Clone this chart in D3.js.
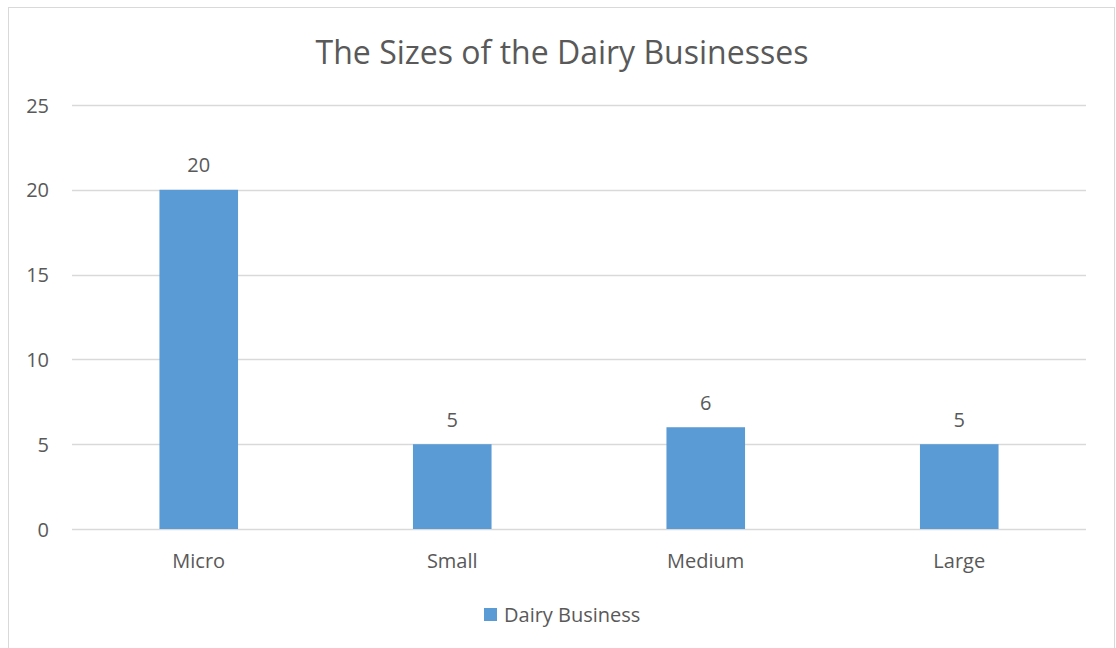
<!DOCTYPE html>
<html>
<head>
<meta charset="utf-8">
<script src="https://cdn.jsdelivr.net/npm/d3@7"></script>
<style>
  html, body { margin: 0; padding: 0; background: #fff; }
  svg { display: block; }
  text { font-family: "Open Sans", "Noto Sans", sans-serif; fill: #595959; }
</style>
</head>
<body>
<svg id="chart" width="1116" height="648"></svg>
<script>
// Dairy business counts by size
const categories = ["Micro", "Small", "Medium", "Large"];
const values = [20, 5, 6, 5];
const yTicks = [0, 5, 10, 15, 20, 25];
const seriesName = "Dairy Business";
const chartTitle = "The Sizes of the Dairy Businesses";

const W = 1116, H = 648;
const margin = { left: 72, right: 30, top: 105, bottom: 119 };
const labelSize = 20;
const svg = d3.select("#chart");

// chart frame
svg.append("rect")
  .attr("x", 8.5).attr("y", 7.5)
  .attr("width", 1106).attr("height", 660)
  .attr("fill", "none").attr("stroke", "#d9d9d9").attr("stroke-width", 1);

const x = d3.scaleBand()
  .domain(categories)
  .range([margin.left, W - margin.right])
  .paddingInner(0.69).paddingOuter(0.345);

const y = d3.scaleLinear()
  .domain([0, 25])
  .range([H - margin.bottom, margin.top]);

// gridlines
svg.append("g")
  .selectAll("line")
  .data(yTicks)
  .join("line")
  .attr("x1", margin.left).attr("x2", W - margin.right)
  .attr("y1", d => Math.round(y(d)) + 0.5).attr("y2", d => Math.round(y(d)) + 0.5)
  .attr("stroke", "#d9d9d9").attr("stroke-width", 1.3);

// y tick labels
svg.append("g")
  .selectAll("text")
  .data(yTicks)
  .join("text")
  .attr("x", 49).attr("y", d => y(d))
  .attr("text-anchor", "end").attr("dominant-baseline", "central")
  .attr("font-size", labelSize)
  .text(d => d);

// bars
svg.append("g")
  .selectAll("rect")
  .data(values)
  .join("rect")
  .attr("x", (d, i) => x(categories[i]))
  .attr("width", x.bandwidth())
  .attr("y", d => y(d))
  .attr("height", d => y(0) - y(d))
  .attr("fill", "#5b9bd5");

// value labels
svg.append("g")
  .selectAll("text")
  .data(values)
  .join("text")
  .attr("x", (d, i) => x(categories[i]) + x.bandwidth() / 2)
  .attr("y", d => y(d) - 25)
  .attr("text-anchor", "middle").attr("dominant-baseline", "central")
  .attr("font-size", labelSize)
  .text(d => d);

// category labels
svg.append("g")
  .selectAll("text")
  .data(categories)
  .join("text")
  .attr("x", d => x(d) + x.bandwidth() / 2)
  .attr("y", y(0) + 31)
  .attr("text-anchor", "middle").attr("dominant-baseline", "central")
  .attr("font-size", labelSize)
  .text(d => d);

// title
svg.append("text")
  .attr("x", 562).attr("y", 51)
  .attr("text-anchor", "middle").attr("dominant-baseline", "central")
  .attr("font-size", 32)
  .text(chartTitle);

// legend
const legend = svg.append("g");
legend.append("rect")
  .attr("x", 484).attr("y", 608)
  .attr("width", 13).attr("height", 13)
  .attr("fill", "#5b9bd5");
legend.append("text")
  .attr("x", 504).attr("y", 614)
  .attr("dominant-baseline", "central")
  .attr("font-size", labelSize)
  .text(seriesName);
</script>
</body>
</html>
